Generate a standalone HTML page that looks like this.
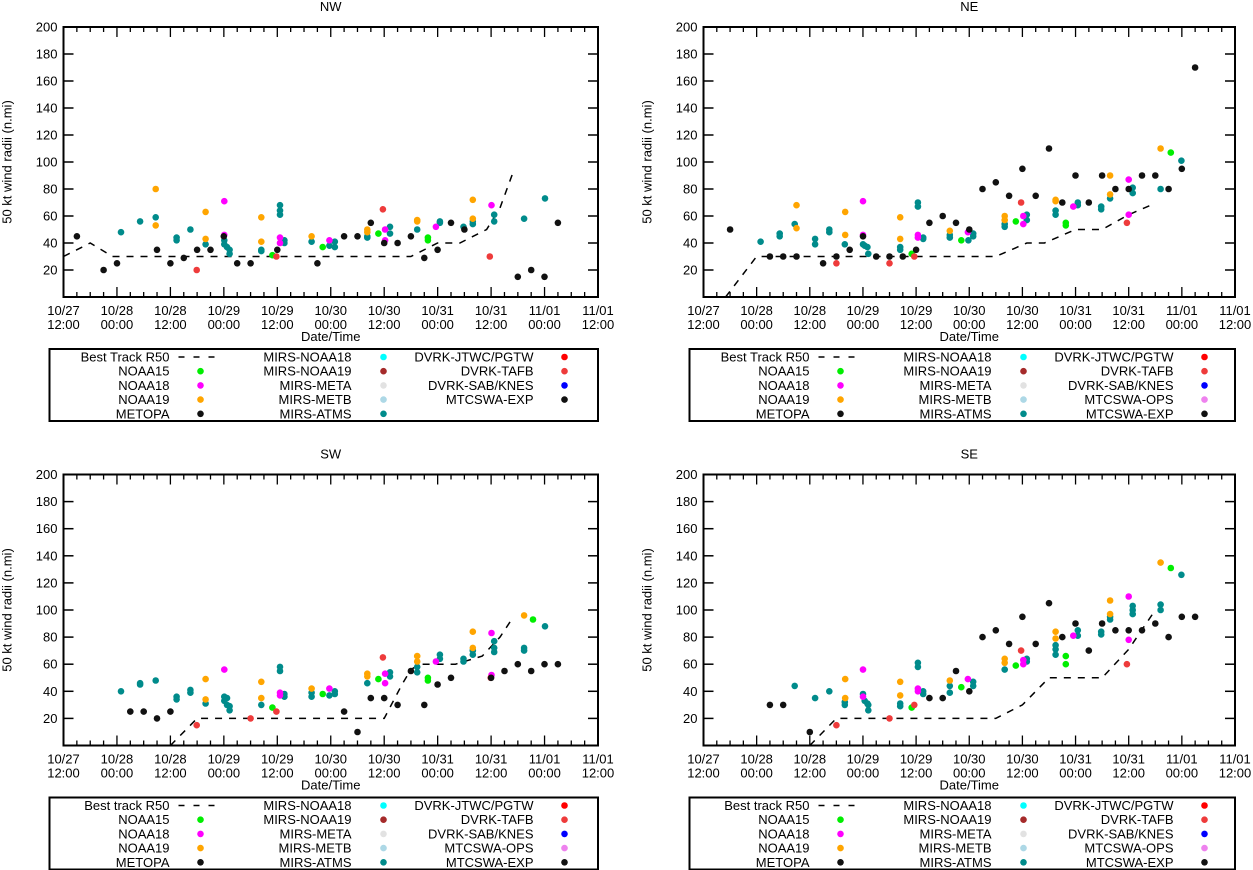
<!DOCTYPE html>
<html><head><meta charset="utf-8"><style>
html,body{margin:0;padding:0;background:#fff}
svg{display:block;font-family:"Liberation Sans",sans-serif}
</style></head><body>
<svg id="chart" width="1253" height="870" viewBox="0 0 1253 870" xmlns="http://www.w3.org/2000/svg"></svg>
<script>
// ---------- data (hours since 10/27 12:00, radius n.mi) ----------
const xTickLabels1 = ["10/27","10/28","10/28","10/29","10/29","10/30","10/30","10/31","10/31","11/01","11/01"];
const xTickLabels2 = ["12:00","00:00","12:00","00:00","12:00","00:00","12:00","00:00","12:00","00:00","12:00"];
const yTicks = [20,40,60,80,100,120,140,160,180,200];

// NW
const nwBestH = [0,6,11,78,84,89,95,98,101];
const nwBestV = [30,40,30,30,40,40,50,66,93];
const nwNOAA19 = [[20.7,80],[20.7,53],[31.9,63],[31.9,43],[44.4,59],[44.4,41],[55.7,45],[68.2,50],[68.2,48],[79.4,57],[79.4,56],[91.9,72],[91.9,58]];
const nwNOAA18 = [[36.1,71],[36.1,46],[48.6,44],[48.6,40],[59.7,42],[72.2,50],[72.2,42],[83.6,52],[96.1,68]];
const nwNOAA15 = [[46.9,31],[58.2,37],[70.7,47],[81.8,44],[81.8,42]];
const nwTAFB = [[29.9,20],[47.8,30],[71.7,65],[95.7,30]];
const nwATMS = [[12.9,48],[17.2,56],[20.7,59],[25.4,44],[25.4,42],[28.5,50],[31.9,39],[36.1,42],[36.1,39],[36.7,37],[37.3,35],[37.3,32],[44.4,35],[44.4,34],[48.6,68],[48.6,64],[48.6,61],[49.6,42],[49.6,40],[55.7,41],[59.7,38],[60.9,41],[60.9,37],[68.2,45],[68.2,44],[73.3,52],[73.3,47],[79.4,50],[84.5,56],[84.5,55],[89.8,52],[91.9,56],[91.9,54],[96.7,61],[96.7,56],[103.4,58],[108.1,73]];
const nwBlack = [[3,45],[9,20],[12,25],[21,35],[24,25],[27,29],[30,35],[33,35],[36,45],[39,25],[42,25],[48,35],[57,25],[63,45],[66,45],[69,55],[72,40],[75,40],[78,45],[81,29],[84,35],[87,55],[90,50],[102,15],[105,20],[108,15],[111,55]];

// NE
const neBestH = [5,12,66,73,77,84,90,96,101];
const neBestV = [0,30,30,40,40,50,50,61,68];
const neNOAA19 = [[21,68],[21,51],[32,63],[32,46],[44.4,59],[44.4,43],[55.6,49],[68,60],[68,57],[79.5,72],[79.5,71],[91.8,90],[91.8,76],[103.2,110]];
const neNOAA18 = [[36,71],[36,46],[48.4,46],[48.4,44],[59.7,48],[72.2,60],[72.2,54],[83.5,67],[96,87],[96,61]];
const neNOAA15 = [[47,32],[58.2,42],[70.5,56],[81.8,55],[81.8,53],[105.5,107]];
const neTAFB = [[30,25],[42,25],[47.6,30],[71.7,70],[95.6,55]];
const neATMS = [[12.9,41],[17.2,47],[17.2,45],[20.6,54],[25.2,43],[25.2,39],[28.4,50],[28.4,48],[31.9,39],[36,39],[36.4,38],[37,37],[37.2,32],[44.4,37],[44.4,35],[48.4,70],[48.4,67],[49.6,44],[49.6,43],[55.6,46],[55.6,44],[59.8,42],[60.9,47],[60.9,45],[68,54],[68,52],[73,61],[73,57],[79.5,64],[79.5,61],[84.5,70],[84.5,68],[89.8,67],[89.8,65],[91.8,73],[96.9,81],[96.9,77],[103.2,80],[107.9,101]];
const neBlack = [[6,50],[15,30],[18,30],[21,30],[27,25],[30,30],[33,35],[36,45],[39,30],[42,30],[45,30],[48,35],[51,55],[54,60],[57,55],[60,50],[63,80],[66,85],[69,75],[72,95],[75,75],[78,110],[81,70],[84,90],[87,70],[90,90],[93,80],[96,80],[99,90],[102,90],[105,80],[108,95],[111,170]];

// SW
const swBestH = [24,30,72,76,78,80,88,94,98,101];
const swBestV = [0,20,20,45,56,60,60,66,80,95];
const swNOAA19 = [[31.9,49],[31.9,34],[44.4,47],[44.4,35],[55.7,42],[68.2,53],[68.2,51],[79.4,66],[79.4,62],[91.9,84],[91.9,72],[103.4,96]];
const swNOAA18 = [[36.1,56],[48.6,39],[48.6,37],[59.7,42],[72.2,53],[72.2,46],[83.6,62],[96.1,83],[96.1,52]];
const swNOAA15 = [[46.9,28],[58.2,38],[70.7,49],[81.8,50],[81.8,48],[105.4,93]];
const swTAFB = [[29.9,15],[42,20],[47.8,25],[71.7,65],[95.9,50]];
const swATMS = [[12.9,40],[17.2,46],[17.2,45],[20.7,48],[25.4,36],[25.4,34],[28.5,41],[28.5,39],[31.9,31],[36.1,36],[36.1,33],[36.7,35],[36.7,30],[37.3,29],[37.3,26],[44.4,30],[48.6,58],[48.6,55],[49.6,38],[49.6,36],[55.7,39],[55.7,36],[59.7,37],[60.9,40],[60.9,38],[68.2,46],[73.3,54],[73.3,51],[79.4,58],[79.4,54],[84.5,67],[84.5,64],[89.8,64],[89.8,62],[91.9,70],[91.9,67],[96.7,77],[96.7,72],[96.7,69],[103.4,72],[103.4,70],[108.1,88]];
const swBlack = [[15,25],[18,25],[21,20],[24,25],[63,25],[66,10],[69,35],[72,35],[75,30],[78,55],[81,30],[84,45],[87,50],[96,50],[99,55],[102,60],[105,55],[108,60],[111,60]];

// SE
const seBestH = [24,30,66,72,78,90,96,102];
const seBestV = [0,20,20,30,50,50,71,100];
const seNOAA19 = [[32,49],[32,35],[44.4,47],[44.4,37],[55.6,48],[68,64],[68,61],[79.5,84],[79.5,79],[91.8,107],[91.8,97],[103.2,135]];
const seNOAA18 = [[36,56],[36,36],[48.4,42],[48.4,40],[59.7,49],[72.2,63],[72.2,60],[83.5,81],[96,110],[96,78]];
const seNOAA15 = [[47,28],[58.2,43],[70.5,59],[81.8,66],[81.8,60],[105.5,131]];
const seTAFB = [[30,15],[42,20],[47.6,30],[71.7,70],[95.6,60]];
const seATMS = [[20.6,44],[25.2,35],[28.4,40],[31.9,32],[31.9,30],[36,38],[36.4,33],[37,31],[37.2,30],[37.2,26],[44.4,31],[44.4,29],[48.4,61],[48.4,58],[49.6,40],[49.6,38],[55.6,44],[55.6,39],[60.9,47],[60.9,44],[68,56],[73,64],[73,62],[79.5,74],[79.5,71],[79.5,67],[84.5,85],[84.5,81],[89.8,84],[89.8,82],[91.8,95],[91.8,93],[96.9,103],[96.9,100],[96.9,97],[103.2,104],[103.2,100],[107.9,126]];
const seBlack = [[15,30],[18,30],[24,10],[51,35],[54,35],[57,55],[60,40],[63,80],[66,85],[69,75],[72,95],[75,75],[78,105],[81,80],[84,90],[87,70],[90,90],[93,85],[96,85],[99,85],[102,90],[105,80],[108,95],[111,95]];

// ---------- rendering ----------
const NS = "http://www.w3.org/2000/svg";
const svg = document.getElementById('chart');
function mk(tag, attrs, parent){ const e=document.createElementNS(NS,tag); for(const k in attrs) e.setAttribute(k,attrs[k]); (parent||svg).appendChild(e); return e; }
function txt(x,y,s,anchor,parent,size){ const t=mk('text',{x:x,y:y,'font-size':size||13,'text-anchor':anchor||'middle',fill:'#000'},parent); t.textContent=s; return t; }

const C = {orange:'#ffa500', mag:'#ff00ff', green:'#00ee00', tafb:'#ee3b3b', teal:'#008b8b', black:'#111111'};

const panels = [
 {id:'nw', title:'NW', x0:63.5, x1:598, y0:27, y1:297, bestLabel:'Best Track R50', bh:nwBestH, bv:nwBestV, s:[[nwATMS,C.teal],[nwNOAA19,C.orange],[nwNOAA18,C.mag],[nwNOAA15,C.green],[nwTAFB,C.tafb],[nwBlack,C.black]], ops:false},
 {id:'ne', title:'NE', x0:703.5, x1:1235, y0:27, y1:297, bestLabel:'Best Track R50', bh:neBestH, bv:neBestV, s:[[neATMS,C.teal],[neNOAA19,C.orange],[neNOAA18,C.mag],[neNOAA15,C.green],[neTAFB,C.tafb],[neBlack,C.black]], ops:true},
 {id:'sw', title:'SW', x0:63.5, x1:598, y0:474.5, y1:745.5, bestLabel:'Best track R50', bh:swBestH, bv:swBestV, s:[[swATMS,C.teal],[swNOAA19,C.orange],[swNOAA18,C.mag],[swNOAA15,C.green],[swTAFB,C.tafb],[swBlack,C.black]], ops:true},
 {id:'se', title:'SE', x0:703.5, x1:1235, y0:474.5, y1:745.5, bestLabel:'Best track R50', bh:seBestH, bv:seBestV, s:[[seATMS,C.teal],[seNOAA19,C.orange],[seNOAA18,C.mag],[seNOAA15,C.green],[seTAFB,C.tafb],[seBlack,C.black]], ops:true}
];

panels.forEach(p=>{
  const g = mk('g',{});
  
  
  const xs = h => p.x0 + (p.x1-p.x0)*h/120;
  const ys = v => p.y1 - (p.y1-p.y0)*v/200;
  const cx = (p.x0+p.x1)/2;
  const t = txt(cx, p.y0-16, p.title, 'middle', g);
  
  
  // clip
  const cp = mk('clipPath',{id:'clip-'+p.id},g);
  mk('rect',{x:p.x0,y:p.y0,width:p.x1-p.x0,height:p.y1-p.y0},cp);
  // y ticks
  yTicks.forEach(v=>{
    const y=ys(v);
    mk('line',{x1:p.x0,y1:y,x2:p.x0+10,y2:y,stroke:'#000','stroke-width':1.5},g);
    mk('line',{x1:p.x1-10,y1:y,x2:p.x1,y2:y,stroke:'#000','stroke-width':1.5},g);
    const l = txt(p.x0-6, y+4.5, String(v), 'end', g);
    
    
  });
  // x ticks every 3h
  for(let h=0;h<=120;h+=3){
    const x=xs(h), major=(h%12===0), L=major?10:5;
    mk('line',{x1:x,y1:p.y1,x2:x,y2:p.y1-L,stroke:'#000','stroke-width':1.3},g);
    mk('line',{x1:x,y1:p.y0,x2:x,y2:p.y0+L,stroke:'#000','stroke-width':1.3},g);
  }
  xTickLabels1.forEach((s,i)=>{
    const x=xs(i*12);
    const a = txt(x, p.y1+18, s, 'middle', g);
    
    
    const b = txt(x, p.y1+32, xTickLabels2[i], 'middle', g);
    
    
  });
  const xt = txt(cx, p.y1+44, 'Date/Time', 'middle', g);
  
  
  const yl = txt(0,0,'50 kt wind radii (n.mi)','middle',g);
  yl.setAttribute('transform','translate('+(p.x0-52)+','+((p.y0+p.y1)/2)+') rotate(-90)');
  
  
  // data
  const dg = mk('g',{'clip-path':'url(#clip-'+p.id+')'},g);
  let d='';
  p.bh.forEach((h,i)=>{ d += (i?'L':'M')+xs(h).toFixed(1)+','+ys(p.bv[i]).toFixed(1); });
  const bt = mk('path',{d:d,fill:'none',stroke:'#000','stroke-width':1.5,'stroke-dasharray':'7,7'},dg);
  
  
  p.s.forEach(([arr,col])=>{
    arr.forEach(([h,v])=>{
      const c = mk('circle',{cx:xs(h).toFixed(1),cy:ys(v).toFixed(1),r:3.3,fill:col},dg);
      
      
    });
  });
  // frame
  mk('rect',{x:p.x0,y:p.y0,width:p.x1-p.x0,height:p.y1-p.y0,fill:'none',stroke:'#000','stroke-width':2},g);
  // legend
  const lg = mk('g',{},g);
  
  
  const lt = p.y1+52;
  mk('rect',{x:p.x0-14,y:lt,width:p.x1-p.x0+14,height:72,fill:'none',stroke:'#000','stroke-width':2},lg);
  const rows = i => lt+8+14.2*i;
  const col1 = [[p.bestLabel,'dash'],['NOAA15',C.green],['NOAA18',C.mag],['NOAA19',C.orange],['METOPA',C.black]];
  const col2 = [['MIRS-NOAA18','#00ffff'],['MIRS-NOAA19','#a52a2a'],['MIRS-META','#e2e2e2'],['MIRS-METB','#add8e6'],['MIRS-ATMS',C.teal]];
  const col3 = p.ops ? [['DVRK-JTWC/PGTW','#ff0000'],['DVRK-TAFB',C.tafb],['DVRK-SAB/KNES','#0000ff'],['MTCSWA-OPS','#ee82ee'],['MTCSWA-EXP',C.black]]
                     : [['DVRK-JTWC/PGTW','#ff0000'],['DVRK-TAFB',C.tafb],['DVRK-SAB/KNES','#0000ff'],['MTCSWA-EXP',C.black]];
  [[col1,106,137],[col2,288,320],[col3,470,501]].forEach(([col,tx,mx])=>{
    col.forEach(([name,color],i)=>{
      const y=rows(i);
      const e = mk('g',{},lg);
      
      
      txt(p.x0+tx, y+4.5, name, 'end', e);
      if(color==='dash') mk('line',{x1:p.x0+tx+9,y1:y,x2:p.x0+tx+48,y2:y,stroke:'#000','stroke-width':1.5,'stroke-dasharray':'6,9'},e);
      else mk('circle',{cx:p.x0+mx,cy:y,r:3.3,fill:color},e);
    });
  });
});
</script>
</body></html>
